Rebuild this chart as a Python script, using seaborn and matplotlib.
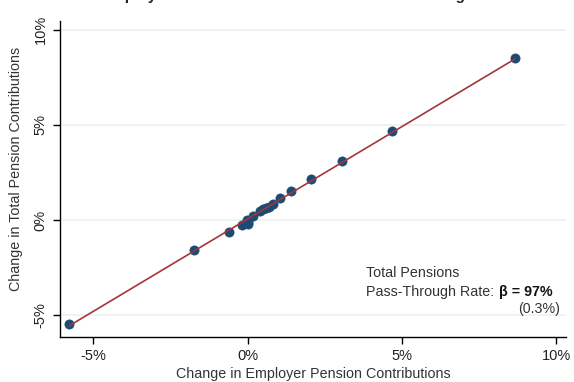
import numpy as np
import pandas as pd
import matplotlib
matplotlib.use("Agg")
import matplotlib.pyplot as plt
from matplotlib.transforms import offset_copy
import seaborn as sns

# Binned changes (percent) in employer and total pension contributions
employer_change = [-5.79, -1.75, -0.61, -0.19, -0.03, 0.03, 0.00, 0.16, 0.39, 0.49,
                   0.61, 0.71, 0.81, 1.04, 1.42, 2.07, 3.07, 4.69, 8.67]
total_change = [-5.47, -1.58, -0.63, -0.26, 0.00, -0.21, -0.10, 0.21, 0.47, 0.58,
                0.63, 0.68, 0.84, 1.16, 1.52, 2.15, 3.10, 4.68, 8.51]
beta = 0.97
beta_se = 0.003
x_ticks = [-5, 0, 5, 10]
y_ticks = [-5, 0, 5, 10]
tick_labels = ["-5%", "0%", "5%", "10%"]

df = pd.DataFrame({"employer": employer_change, "total": total_change})

sns.set_theme(style="white")
plt.rcParams["font.family"] = ["Liberation Sans", "DejaVu Sans"]

fig = plt.figure(figsize=(5.74, 3.82), dpi=100)
ax = fig.add_axes([0.1045, 0.1186, 0.8815, 0.8274])

# Fitted pass-through line with the reported slope
intercept = df["total"].mean() - beta * df["employer"].mean()
xs = np.array([df["employer"].min(), df["employer"].max()])
line_df = pd.DataFrame({"x": xs, "y": intercept + beta * xs})

sns.scatterplot(data=df, x="employer", y="total", ax=ax, s=44, color="#1b4b75",
                edgecolor="#1b4b75", linewidth=0.5, zorder=3)
sns.lineplot(data=line_df, x="x", y="y", ax=ax, color="#a2363b", linewidth=1.2,
             zorder=4)

ax.set_xlim(-6.08, 10.32)
ax.set_ylim(-6.13, 10.47)
ax.set_xticks(x_ticks)
ax.set_xticklabels(tick_labels)
ax.set_yticks(y_ticks)
ax.set_yticklabels(tick_labels, rotation=90, va="center")

for y in y_ticks:
    ax.axhline(y, color="#e8f1f4", linewidth=1.1, zorder=0)

for side in ("top", "right"):
    ax.spines[side].set_visible(False)
for side in ("left", "bottom"):
    ax.spines[side].set_color("#000000")
    ax.spines[side].set_linewidth(1.0)

ax.tick_params(axis="both", which="major", direction="out", length=5, width=1,
               color="#000000", labelsize=10.5, labelcolor="#222222", bottom=True,
               left=True, pad=4)

ax.set_xlabel("Change in Employer Pension Contributions", fontsize=10.3,
              color="#333333", labelpad=3)
ax.set_ylabel("Change in Total Pension Contributions", fontsize=10.3,
              color="#333333")
ax.yaxis.set_label_coords(-0.073, 0.53)

# Pass-through annotation
ax.text(0.605, 0.2016, "Total Pensions", transform=ax.transAxes, fontsize=10.3,
        color="#333333", ha="left", va="center")
t1 = ax.text(0.605, 0.141, "Pass-Through Rate:", transform=ax.transAxes,
             fontsize=10.3, color="#333333", ha="left", va="center")
fig.canvas.draw()
bb = t1.get_window_extent(renderer=fig.canvas.get_renderer())
x_after = ax.transAxes.inverted().transform((bb.x1, bb.y0))[0]
ax.text(x_after, 0.141, f" β = {beta:.0%}",
        transform=offset_copy(ax.transAxes, fig=fig, x=1.0, units="dots"),
        fontsize=10.3, color="#111111", ha="left", va="center",
        fontweight="bold")
ax.text(0.988, 0.0877, f"({beta_se:.1%})", transform=ax.transAxes,
        fontsize=10.3, color="#333333", ha="right", va="center")

fig.text(0.5, 1.0, "Employer Pension Contributions and Total Savings",
         ha="center", va="baseline", fontsize=11, fontweight="bold",
         color="#222222")

fig.savefig("out.png", dpi=100)
